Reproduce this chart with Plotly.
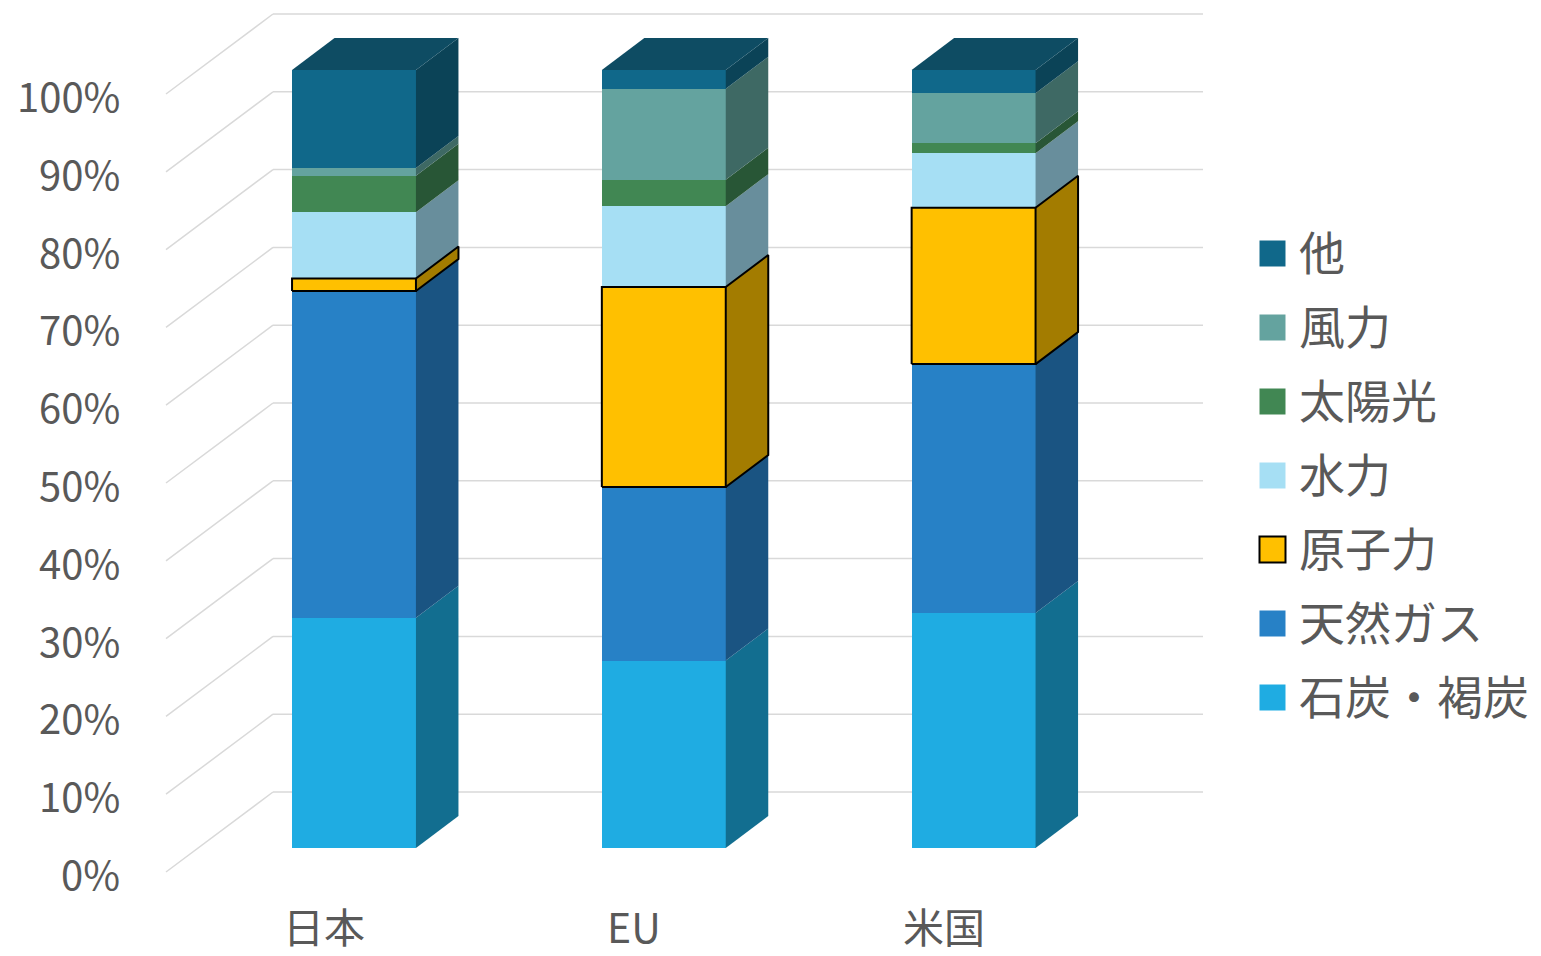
import plotly.graph_objects as go

# --- data -------------------------------------------------------------
regions = ["日本", "EU", "米国"]
sources = ["石炭・褐炭", "天然ガス", "原子力", "水力", "太陽光", "風力", "他"]

coal = [29.6, 24.1, 30.2]
gas = [42.0, 22.3, 32.0]
nuclear = [1.6, 25.7, 20.1]
hydro = [8.5, 10.4, 7.0]
solar = [4.7, 3.4, 1.3]
wind = [1.0, 11.7, 6.4]
other = [12.6, 2.4, 3.0]

series = [coal, gas, nuclear, hydro, solar, wind, other]

tick_values = list(range(0, 101, 10))
tick_labels = [f"{v}%" for v in tick_values]

# --- style --------------------------------------------------------------
front_colors = ["#1FACE2", "#2781C6", "#FFC000", "#A6DFF4", "#418753", "#64A39F", "#10688A"]
side_colors = ["#126E90", "#1A5482", "#A37C00", "#688E9C", "#285636", "#3E6964", "#0B4357"]
top_color = "#0E4C63"
grid_color = "#D9D9D9"
text_color = "#595959"
font_family = "Noto Sans CJK JP, Noto Sans, sans-serif"

W, H = 1541, 956
CAT_PX = 309.8      # pixels between category centres
PCT_PX = 7.78       # pixels per percentage point
X0_PX, Y0_PX = 354, 848  # pixel position of first category / 0 % on the bar front plane


def dx(px):
    return px / CAT_PX


def dy(px):
    return px / PCT_PX


BAR_W = 0.4
DEPTH = (dx(42.5), dy(32))          # bar depth (oblique offset)
FLOOR_FRONT = (dx(-32), dy(-24))    # floor front edge relative to bar front plane
BACK_WALL = (dx(75), dy(56))        # back wall relative to bar front plane
WALL_LEFT = dx(166 - X0_PX)         # front-left corner of the side wall
WALL_BACK_LEFT = dx(273 - X0_PX)
WALL_RIGHT = dx(1203 - X0_PX)

fig = go.Figure()

# front faces of the stacked columns
for name, vals, col in zip(sources, series, front_colors):
    fig.add_trace(go.Bar(
        x=list(range(len(regions))), y=vals, name=name, width=BAR_W,
        marker=dict(color=col, line=dict(width=0)), showlegend=False,
        hoverinfo="skip",
    ))

# side faces and top face
ddx, ddy = DEPTH
nuc_idx = sources.index("原子力")
outline_x, outline_y = [], []
for i in range(len(regions)):
    base = 0.0
    xr = i + BAR_W / 2
    xl = i - BAR_W / 2
    for k, vals in enumerate(series):
        b, t = base, base + vals[i]
        fig.add_trace(go.Scatter(
            x=[xr, xr + ddx, xr + ddx, xr, xr],
            y=[b, b + ddy, t + ddy, t, b],
            mode="lines", fill="toself", fillcolor=side_colors[k],
            line=dict(width=0, color=side_colors[k]),
            showlegend=False, hoverinfo="skip",
        ))
        if k == nuc_idx:
            outline_x += [xl, xr, xr, xl, xl, None, xr, xr + ddx, xr + ddx, xr, None]
            outline_y += [b, b, t, t, b, None, t, t + ddy, b + ddy, b, None]
        base = t
    fig.add_trace(go.Scatter(
        x=[xl, xr, xr + ddx, xl + ddx, xl],
        y=[base, base, base + ddy, base + ddy, base],
        mode="lines", fill="toself", fillcolor=top_color,
        line=dict(width=0, color=top_color),
        showlegend=False, hoverinfo="skip",
    ))

# black outline of the nuclear segment
fig.add_trace(go.Scatter(
    x=outline_x, y=outline_y, mode="lines",
    line=dict(color="#000000", width=2), showlegend=False, hoverinfo="skip",
))

# gridlines on the side wall and back wall
shapes = []
for v in tick_values:
    yf = v + FLOOR_FRONT[1]
    yb = v + BACK_WALL[1]
    shapes.append(dict(type="line", xref="x", yref="y", layer="below",
                       x0=WALL_LEFT, y0=yf, x1=WALL_BACK_LEFT, y1=yb,
                       line=dict(color=grid_color, width=1.5)))
    shapes.append(dict(type="line", xref="x", yref="y", layer="below",
                       x0=WALL_BACK_LEFT, y0=yb, x1=WALL_RIGHT, y1=yb,
                       line=dict(color=grid_color, width=1.5)))

annotations = []
# value axis labels
for v, lab in zip(tick_values, tick_labels):
    annotations.append(dict(
        x=dx(122 - X0_PX), y=v, xref="x", yref="y", text=lab, showarrow=False,
        xanchor="right", yanchor="middle", yshift=-25,
        font=dict(size=40, color=text_color, family=font_family),
    ))
# category labels
for i, r in enumerate(regions):
    annotations.append(dict(
        x=i, y=0, xref="x", yref="y", text=r, showarrow=False,
        xanchor="center", yanchor="middle", xshift=-30, yshift=-77,
        borderpad=0,
        font=dict(size=41, color=text_color, family=font_family),
    ))

# legend (top entry is the last series)
LEG_MARK_X = dx(1272.5 - X0_PX)
LEG_TEXT_X = dx(1297 - X0_PX)
leg_y = [dy(Y0_PX - (253.5 + 74 * j)) for j in range(len(sources))]
leg_names = sources[::-1]
leg_cols = front_colors[::-1]
leg_line_w = [2 if n == "原子力" else 0 for n in leg_names]
fig.add_trace(go.Scatter(
    x=[LEG_MARK_X] * len(leg_names), y=leg_y, mode="markers",
    marker=dict(symbol="square", size=26, color=leg_cols,
                line=dict(color="#000000", width=leg_line_w)),
    showlegend=False, hoverinfo="skip",
))
for name, yv in zip(leg_names, leg_y):
    annotations.append(dict(
        x=LEG_TEXT_X, y=yv, xref="x", yref="y", text=name, showarrow=False,
        xanchor="left", yanchor="middle", yshift=4,
        font=dict(size=46, color=text_color, family=font_family),
    ))

fig.update_layout(
    width=W, height=H,
    margin=dict(l=0, r=0, t=0, b=0),
    barmode="stack",
    paper_bgcolor="white", plot_bgcolor="white",
    xaxis=dict(range=[dx(-X0_PX), dx(W - X0_PX)], visible=False, fixedrange=True),
    yaxis=dict(range=[dy(Y0_PX - H), dy(Y0_PX)], visible=False, fixedrange=True),
    shapes=shapes, annotations=annotations,
    showlegend=False,
)

fig.write_html("out.html")
